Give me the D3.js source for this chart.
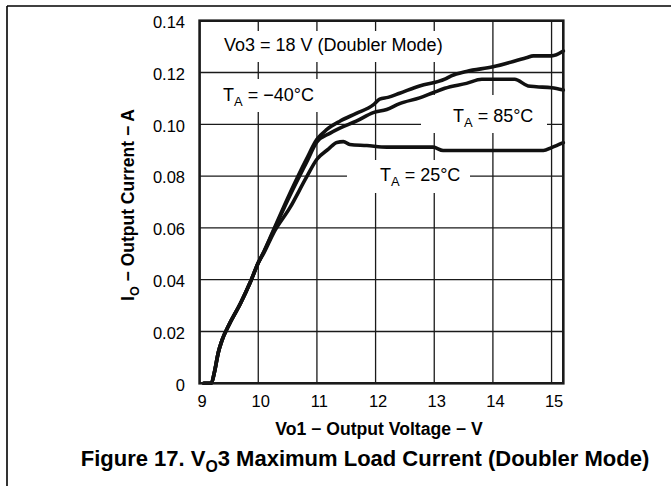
<!DOCTYPE html>
<html>
<head>
<meta charset="utf-8">
<script src="https://cdn.jsdelivr.net/npm/d3@7"></script>
<style>
  body { margin: 0; background: #ffffff; }
  text { font-family: "Liberation Sans", Arial, Helvetica, sans-serif; fill: #000000; }
</style>
</head>
<body>
<script>
// Tick values
var X_TICKS = [9, 10, 11, 12, 13, 14, 15];
var Y_TICKS = [0, 0.02, 0.04, 0.06, 0.08, 0.10, 0.12, 0.14];
var Y_TICK_LABELS = ["0", "0.02", "0.04", "0.06", "0.08", "0.10", "0.12", "0.14"];

// TA = -40 C (top curve)
var n40Volts = [9.07, 9.2, 9.25, 9.32, 9.38, 9.5, 9.7, 9.86, 10, 10.1, 10.26, 10.54, 10.82, 11, 11.17, 11.39, 11.67, 11.96, 12.07, 12.21, 12.41, 12.75, 13.18, 13.29, 13.55, 14, 14.57, 14.69, 15, 15.2];
var n40Amps  = [0, 0, 0.004, 0.012, 0.0165, 0.0225, 0.031, 0.0388, 0.0465, 0.051, 0.0592, 0.0734, 0.0865, 0.0942, 0.098, 0.1012, 0.1042, 0.1075, 0.1097, 0.1104, 0.112, 0.1148, 0.1174, 0.1187, 0.1204, 0.1222, 0.1257, 0.1264, 0.1264, 0.1283];

// TA = 85 C (middle curve)
var p85Volts = [9.07, 9.2, 9.25, 9.32, 9.38, 9.5, 9.7, 9.86, 10, 10.1, 10.26, 10.54, 10.82, 11, 11.22, 11.39, 11.67, 11.96, 12.19, 12.41, 12.75, 12.98, 13.18, 13.55, 13.81, 14.37, 14.6, 14.74, 15, 15.2];
var p85Amps  = [0, 0, 0.004, 0.012, 0.0165, 0.0225, 0.031, 0.0388, 0.0465, 0.051, 0.0588, 0.0725, 0.0852, 0.0932, 0.0965, 0.0985, 0.1012, 0.1045, 0.1057, 0.108, 0.1102, 0.1122, 0.1139, 0.1158, 0.1174, 0.1174, 0.1148, 0.1145, 0.1141, 0.1132];

// TA = 25 C (bottom curve)
var p25Volts = [9.07, 9.2, 9.25, 9.32, 9.38, 9.5, 9.7, 9.86, 10, 10.1, 10.26, 10.54, 10.82, 11, 11.2, 11.34, 11.45, 11.56, 11.85, 12.19, 12.98, 13.15, 14.86, 15, 15.2];
var p25Amps  = [0, 0, 0.004, 0.012, 0.0165, 0.0225, 0.031, 0.0388, 0.0465, 0.0505, 0.058, 0.0678, 0.0795, 0.0865, 0.0905, 0.093, 0.0933, 0.0922, 0.0918, 0.0912, 0.0912, 0.0899, 0.0899, 0.091, 0.0929];

var SVG_WIDTH = 671;
var SVG_HEIGHT = 486;
var PLOT_LEFT = 199.6;
var PLOT_RIGHT = 563.3;
var PLOT_TOP = 20.7;
var PLOT_BOTTOM = 383.3;

var svg, xScale, yScale;

function setupFrame()
{
  svg = d3.select("body").append("svg")
          .attr("width", SVG_WIDTH)
          .attr("height", SVG_HEIGHT);

  svg.append("rect")
     .attr("width", SVG_WIDTH)
     .attr("height", SVG_HEIGHT)
     .style("fill", "#ffffff");

  // page rule lines, top and left
  svg.append("line")
     .attr("x1", 7).attr("y1", 6).attr("x2", SVG_WIDTH).attr("y2", 6)
     .style("stroke", "#000000").style("stroke-width", 1.6);
  svg.append("line")
     .attr("x1", 7).attr("y1", 6).attr("x2", 7).attr("y2", SVG_HEIGHT)
     .style("stroke", "#000000").style("stroke-width", 1.6);
}

function setupScales()
{
  xScale = d3.scaleLinear().domain([9, 15.2]).range([PLOT_LEFT, PLOT_RIGHT]);
  yScale = d3.scaleLinear().domain([0, 0.14]).range([PLOT_BOTTOM, PLOT_TOP]);
}

function setupGrid()
{
  var grid = svg.append("g").attr("id", "grid");

  grid.selectAll(".vgrid")
      .data(X_TICKS.slice(1))
      .enter().append("line")
      .attr("class", "vgrid")
      .attr("x1", function(d) { return xScale(d); })
      .attr("x2", function(d) { return xScale(d); })
      .attr("y1", PLOT_TOP)
      .attr("y2", PLOT_BOTTOM)
      .style("stroke", "#1a1a1a")
      .style("stroke-width", 1.3);

  grid.selectAll(".hgrid")
      .data(Y_TICKS.slice(1, -1))
      .enter().append("line")
      .attr("class", "hgrid")
      .attr("x1", PLOT_LEFT)
      .attr("x2", PLOT_RIGHT)
      .attr("y1", function(d) { return yScale(d); })
      .attr("y2", function(d) { return yScale(d); })
      .style("stroke", "#1a1a1a")
      .style("stroke-width", 1.3);

  // white boxes behind the in-plot labels
  var boxes = [[215, 31, 235, 31], [215, 79, 110, 33], [421, 95, 126, 38], [347, 160, 123, 33]];
  grid.selectAll(".label_box")
      .data(boxes)
      .enter().append("rect")
      .attr("class", "label_box")
      .attr("x", function(d) { return d[0]; })
      .attr("y", function(d) { return d[1]; })
      .attr("width", function(d) { return d[2]; })
      .attr("height", function(d) { return d[3]; })
      .style("fill", "#ffffff");
}

function setupAxes()
{
  var xAxis = d3.axisBottom(xScale)
                .tickValues(X_TICKS)
                .tickSize(0)
                .tickPadding(0)
                .tickFormat(d3.format("d"));

  var gx = svg.append("g")
              .attr("transform", "translate(2,406.5)")
              .attr("font-family", null)
              .call(xAxis);
  gx.select(".domain").remove();
  gx.selectAll("text")
    .attr("dy", 0)
    .attr("y", 0)
    .style("font-size", "16.5px");

  var yAxis = d3.axisLeft(yScale)
                .tickValues(Y_TICKS)
                .tickSize(0)
                .tickPadding(0)
                .tickFormat(function(d, i) { return Y_TICK_LABELS[i]; });

  var gy = svg.append("g")
              .attr("transform", "translate(185,1.5)")
              .call(yAxis);
  gy.select(".domain").remove();
  gy.selectAll("text")
    .style("font-size", "16.5px");

  gx.attr("font-family", null);
  gy.attr("font-family", null);
}

function drawCurves()
{
  var line = d3.line()
               .x(function(d) { return xScale(d[0]); })
               .y(function(d) { return yScale(d[1]); })
               .curve(d3.curveMonotoneX);

  var series = [
    d3.zip(n40Volts, n40Amps),
    d3.zip(p85Volts, p85Amps),
    d3.zip(p25Volts, p25Amps)
  ];

  svg.append("g").selectAll(".curve")
     .data(series)
     .enter().append("path")
     .attr("class", "curve")
     .attr("d", line)
     .style("fill", "none")
     .style("stroke", "#111111")
     .style("stroke-width", 3.6)
     .style("stroke-linejoin", "round")
     .style("stroke-linecap", "round");

  // plot border on top
  svg.append("rect")
     .attr("x", PLOT_LEFT)
     .attr("y", PLOT_TOP)
     .attr("width", PLOT_RIGHT - PLOT_LEFT)
     .attr("height", PLOT_BOTTOM - PLOT_TOP)
     .style("fill", "none")
     .style("stroke", "#1a1a1a")
     .style("stroke-width", 2.6);
}

// text with one subscript run; parts like [{text:"T"}, {sub:"A"}, {text:" = 85"}]
function addSubText(parent, x, y, size, parts, bold, anchor)
{
  var t = parent.append("text")
                .attr("x", x)
                .attr("y", y)
                .style("font-size", size + "px")
                .style("font-weight", bold ? "bold" : "normal")
                .style("text-anchor", anchor || "start");
  var shift = 0;
  parts.forEach(function(p)
  {
    if (p.sub)
    {
      t.append("tspan")
       .attr("dy", size * 0.28)
       .style("font-size", (size * 0.72) + "px")
       .text(p.sub);
      shift = -size * 0.28;
    }
    else
    {
      t.append("tspan").attr("dy", shift).text(p.text);
      shift = 0;
    }
  });
  return t;
}

function drawLabels()
{
  svg.append("text")
     .attr("x", 224)
     .attr("y", 51)
     .style("font-size", "18px")
     .text("Vo3 = 18 V (Doubler Mode)");

  addSubText(svg, 223, 100.5, 18, [{text: "T"}, {sub: "A"}, {text: " = \u221240\u00B0C"}], false);
  addSubText(svg, 453, 121.5, 18, [{text: "T"}, {sub: "A"}, {text: " = 85\u00B0C"}], false);
  addSubText(svg, 380, 180.5, 18, [{text: "T"}, {sub: "A"}, {text: " = 25\u00B0C"}], false);

  svg.append("text")
     .attr("x", 379)
     .attr("y", 435)
     .style("font-size", "17.6px")
     .style("font-weight", "bold")
     .style("text-anchor", "middle")
     .text("Vo1 \u2212 Output Voltage \u2212 V");

  var yTitle = svg.append("g").attr("transform", "translate(134,205) rotate(-90)");
  addSubText(yTitle, 0, 0, 17.5, [{text: "I"}, {sub: "O"}, {text: " \u2212 Output Current \u2212 A"}], true, "middle");

  addSubText(svg, 365, 466, 22, [{text: "Figure 17. V"}, {sub: "O"}, {text: "3 Maximum Load Current (Doubler Mode)"}], true, "middle");
}

function initializeMainEnvironment()
{
  setupFrame();
  setupScales();
  setupGrid();
  setupAxes();
  drawCurves();
  drawLabels();
}

initializeMainEnvironment();
</script>
</body>
</html>
